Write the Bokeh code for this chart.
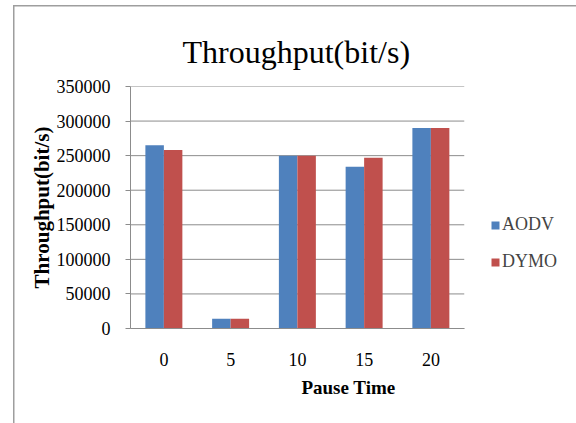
import numpy as np
from bokeh.plotting import figure
from bokeh.models import (Range1d, FixedTicker, Legend, LegendItem,
                          ColumnDataSource, BasicTickFormatter)
from bokeh.transform import dodge
from bokeh.embed import file_html
from bokeh.resources import INLINE

pause_times = ["0", "5", "10", "15", "20"]
aodv = [265000, 14000, 250000, 234000, 290000]
dymo = [258000, 14000, 250000, 247000, 290000]
series_names = ["AODV", "DYMO"]
y_ticks = [0, 50000, 100000, 150000, 200000, 250000, 300000, 350000]

BLUE = "#4F81BD"
RED = "#C0504D"
GRID = "#8C8C8C"
FONT = "Liberation Serif"

n = len(pause_times)
xpos = list(range(1, n + 1))
src = ColumnDataSource(dict(x=xpos, aodv=aodv, dymo=dymo))

# frame spans the plot area plus the legend area on the right
cat_px = 66.75
frame_px = 576 - 130 - 10
p = figure(x_range=Range1d(0.5, 0.5 + frame_px / cat_px),
           y_range=Range1d(0, 350000),
           width=576, height=423, output_backend="svg", toolbar_location=None,
           title="Throughput(bit/s)",
           min_border_left=130, min_border_right=10,
           min_border_top=86, min_border_bottom=95)
p.border_fill_color = None
p.background_fill_color = None
p.styles = {
    "background-color": "white",
    "background-image": "linear-gradient(#9e9e9e,#9e9e9e), linear-gradient(#9e9e9e,#9e9e9e)",
    "background-size": "1.5px 100%, 100% 1.5px",
    "background-position": "12.5px 5px, 12.5px 5px",
    "background-repeat": "no-repeat",
}

# horizontal gridlines over the category area only
p.segment(x0=[0.5] * len(y_ticks), x1=[n + 0.5] * len(y_ticks),
          y0=y_ticks, y1=y_ticks, line_color=GRID, line_width=1)

bw = 0.277
r1 = p.vbar(x=dodge("x", -bw / 2), top="aodv", width=bw,
            source=src, fill_color=BLUE, line_color=None)
r2 = p.vbar(x=dodge("x", bw / 2), top="dymo", width=bw,
            source=src, fill_color=RED, line_color=None)

p.title.text_font = FONT
p.title.text_font_size = "32px"
p.title.text_font_style = "normal"
p.title.align = "left"
p.title.offset = 52
p.title.text_color = "black"
p.title.standoff = 33

p.outline_line_color = None
p.xgrid.grid_line_color = None
p.ygrid.grid_line_color = None

p.xaxis.ticker = FixedTicker(ticks=xpos)
p.xaxis.major_label_overrides = {x: lab for x, lab in zip(xpos, pause_times)}
p.xaxis.bounds = (0.5, n + 0.5)
p.yaxis.ticker = FixedTicker(ticks=y_ticks)
p.yaxis.formatter = BasicTickFormatter(use_scientific=False)
p.yaxis.axis_label = "Throughput(bit/s)"
p.xaxis.axis_label = "Pause Time"
for ax in (p.xaxis, p.yaxis):
    ax.axis_line_color = GRID
    ax.major_tick_line_color = GRID
    ax.minor_tick_line_color = None
    ax.major_label_text_font = FONT
    ax.major_label_text_font_size = "18px"
    ax.major_label_text_color = "black"
    ax.axis_label_text_font = FONT
    ax.axis_label_text_font_style = "bold"
    ax.axis_label_text_color = "black"
p.yaxis.major_tick_in = 0
p.yaxis.major_tick_out = 5
p.yaxis.major_label_standoff = 15
p.yaxis.axis_label_text_font_size = "21px"
p.yaxis.axis_label_standoff = 0
p.xaxis.major_tick_in = 0
p.xaxis.major_tick_out = 0
p.xaxis.major_label_standoff = 24
p.xaxis.axis_label_text_font_size = "19px"
p.xaxis.axis_label_standoff = 8

legend = Legend(items=[LegendItem(label=series_names[0], renderers=[r1]),
                       LegendItem(label=series_names[1], renderers=[r2])],
                location=(360, 56), orientation="vertical",
                glyph_width=10, glyph_height=10, label_height=20,
                spacing=16, padding=0, margin=0, label_standoff=2,
                label_text_font=FONT, label_text_font_size="18px",
                border_line_color=None, background_fill_alpha=0)
p.add_layout(legend)

open("out.html", "w").write(file_html(p, INLINE))
